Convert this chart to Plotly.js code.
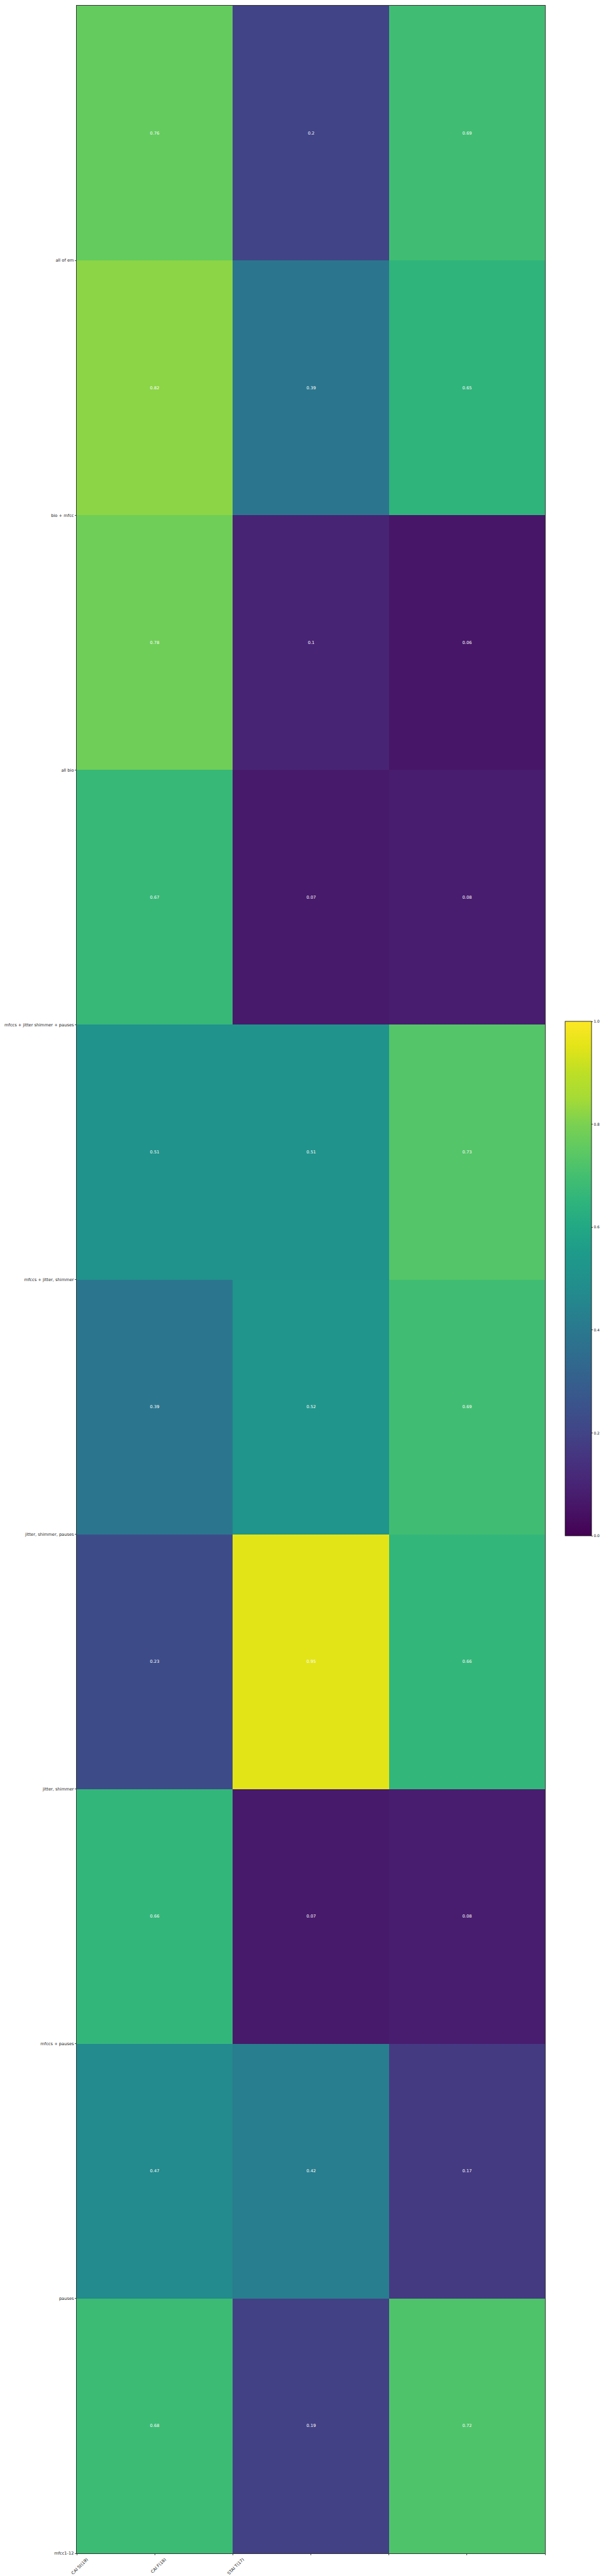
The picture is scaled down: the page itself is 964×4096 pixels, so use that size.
<!DOCTYPE html>
<html>
<head>
<meta charset="utf-8">
<script src="https://cdn.plot.ly/plotly-3.0.1.min.js"></script>
<style>
  html, body { margin: 0; padding: 0; background: #ffffff; }
  #chart { width: 964px; height: 4096px; }
</style>
</head>
<body>
<div id="chart"></div>
<script>
// Row labels, sitting on the cell boundaries from bottom (0) to top (9)
const yTickLabels = [
  'mfcc1-12',
  'pauses',
  'mfccs + pauses',
  'jitter, shimmer',
  'jitter, shimmer, pauses',
  'mfccs + jitter, shimmer',
  'mfccs + jitter shimmer + pauses',
  'all bio',
  'bio + mfcc',
  'all of em'
];
// Column labels (only the first three of the seven x ticks carry a label)
const xTickLabels = ['CAI St(19)', 'CAI F(18)', 'STAI T(17)'];

// Cell values, listed from the top row to the bottom row
const caiSt = [0.76, 0.82, 0.78, 0.67, 0.51, 0.39, 0.23, 0.66, 0.47, 0.68];
const caiF  = [0.2, 0.39, 0.1, 0.07, 0.51, 0.52, 0.95, 0.07, 0.42, 0.19];
const staiT = [0.69, 0.65, 0.06, 0.08, 0.73, 0.69, 0.66, 0.08, 0.17, 0.72];

// matplotlib viridis stops
const viridis = [
  [0.00, '#440154'], [0.05, '#471365'], [0.10, '#482475'], [0.15, '#46337f'],
  [0.20, '#414487'], [0.25, '#3b528b'], [0.30, '#355f8d'], [0.35, '#2f6c8e'],
  [0.40, '#2a788e'], [0.45, '#25858e'], [0.50, '#21918c'], [0.55, '#1e9b8a'],
  [0.60, '#22a884'], [0.65, '#2fb47c'], [0.70, '#44bf70'], [0.75, '#5ec962'],
  [0.80, '#7ad151'], [0.85, '#a5db36'], [0.90, '#bddf26'], [0.95, '#e2e418'],
  [1.00, '#fde725']
];

const nRows = caiSt.length;
const xCenters = xTickLabels.map((_, i) => i + 0.5);
const yCenters = [];
const z = [];
for (let k = 0; k < nRows; k++) {
  const r = nRows - 1 - k; // bottom row first
  yCenters.push(k + 0.5);
  z.push([caiSt[r], caiF[r], staiT[r]]);
}

const xTickVals = [];
const xTickText = [];
for (let i = 0; i <= 2 * xTickLabels.length; i++) {
  xTickVals.push(i * 0.5);
  xTickText.push(i < xTickLabels.length ? xTickLabels[i] : '');
}
const yTickVals = yTickLabels.map((_, i) => i);

const FONT = 'DejaVu Sans, Liberation Sans, sans-serif';

const W = 964, H = 4096;
const M = { l: 122.4, r: 97, t: 9.4, b: 36.4 };
const plotW = W - M.l - M.r;
const plotH = H - M.t - M.b;
// colorbar box (pixels from top-left of page)
const cbLeft = 898.5, cbTop = 1624, cbBottom = 2442;

const trace = {
  type: 'heatmap',
  x: xCenters,
  y: yCenters,
  z: z,
  zmin: 0,
  zmax: 1,
  colorscale: viridis,
  texttemplate: '%{z}',
  textfont: { family: FONT, size: 6.7, color: '#ffffff' },
  hoverinfo: 'skip',
  colorbar: {
    xref: 'paper', yref: 'paper',
    x: (cbLeft - M.l) / plotW, xanchor: 'left',
    y: (H - cbBottom - M.b) / plotH, yanchor: 'bottom',
    xpad: 0, ypad: 0,
    thickness: 41.5, thicknessmode: 'pixels',
    len: (cbBottom - cbTop) / plotH, lenmode: 'fraction',
    outlinewidth: 0.8, outlinecolor: '#000000',
    ticks: 'outside', ticklen: 2.3, tickwidth: 0.7, tickcolor: '#000000',
    tickvals: [0, 0.2, 0.4, 0.6, 0.8, 1.0],
    tickformat: '.1f',
    tickfont: { family: FONT, size: 6, color: '#222222' }
  }
};

const layout = {
  width: W,
  height: H,
  margin: M,
  paper_bgcolor: '#ffffff',
  plot_bgcolor: '#ffffff',
  showlegend: false,
  font: { family: FONT, color: '#222222' },
  xaxis: {
    range: [0, xTickLabels.length],
    tickmode: 'array',
    tickvals: xTickVals,
    ticktext: xTickText,
    tickangle: -45,
    ticklabelshift: 16,
    ticks: 'outside', ticklen: 2.3, tickwidth: 0.7, tickcolor: '#000000',
    tickfont: { family: FONT, size: 6.7, color: '#222222' },
    showgrid: false, zeroline: false,
    showline: true, linecolor: '#000000', linewidth: 0.8, mirror: true,
    fixedrange: true
  },
  yaxis: {
    range: [0, nRows],
    tickmode: 'array',
    tickvals: yTickVals,
    ticktext: yTickLabels,
    ticks: 'outside', ticklen: 2.3, tickwidth: 0.7, tickcolor: '#000000',
    tickfont: { family: FONT, size: 6.7, color: '#222222' },
    showgrid: false, zeroline: false,
    showline: true, linecolor: '#000000', linewidth: 0.8, mirror: true,
    fixedrange: true
  }
};

Plotly.newPlot('chart', [trace], layout, { displayModeBar: false, staticPlot: true });
</script>
</body>
</html>
